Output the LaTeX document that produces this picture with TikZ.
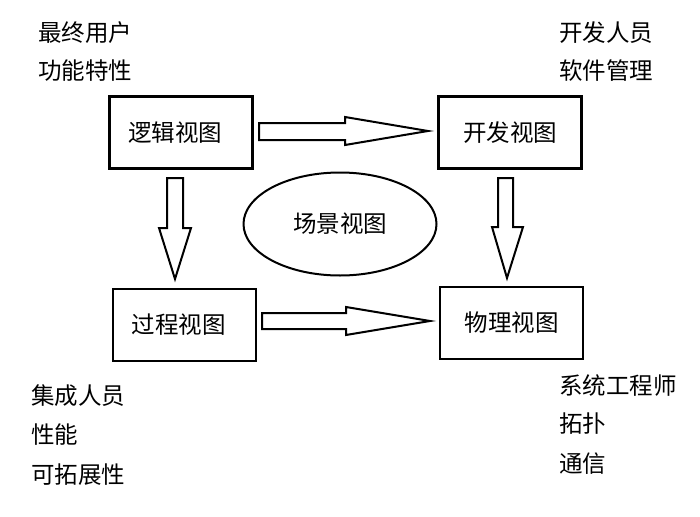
\documentclass[tikz,border=0pt]{standalone}
\usepackage{fontspec}
\setmainfont{Noto Sans CJK SC}
\usetikzlibrary{shapes.geometric}
\begin{document}
\begin{tikzpicture}[x=1pt,y=-1pt,
  viewbox/.style={draw,line width=2.6pt,minimum width=143pt,minimum height=72pt,inner sep=0pt,font=\fontsize{23.5}{26}\selectfont},
  scene/.style={draw,line width=2pt,ellipse,minimum width=193pt,minimum height=103pt,inner sep=0pt,font=\fontsize{23.5}{26}\selectfont},
  lbl/.style={anchor=west,inner sep=0pt,font=\fontsize{23.5}{26}\selectfont},
  blockarrow/.style={draw,line width=2pt,fill=white,line join=miter}]
\useasboundingbox (0,0) rectangle (700,516);
\node[viewbox] (logic) at (181,132.5) {\hspace*{-12pt}逻辑视图};
\node[viewbox] (dev) at (510,132.5) {开发视图};
\node[viewbox] (proc) at (184.5,325) {\hspace*{-12pt}过程视图};
\node[viewbox] (phys) at (511.5,323) {物理视图};
\node[scene] (scn) at (340,224) {场景视图};
% block arrows
\draw[blockarrow] (259,123)--(345,123)--(345,117)--(428,131)--(345,145)--(345,140)--(259,140)--cycle;
\draw[blockarrow] (262,313)--(346,313)--(346,307)--(430,321)--(346,335)--(346,329)--(262,329)--cycle;
\draw[blockarrow] (167,178)--(183,178)--(183,228)--(191,228)--(175,279)--(159,228)--(167,228)--cycle;
\draw[blockarrow] (498,178)--(513,178)--(513,227)--(523,227)--(507,278)--(492,227)--(498,227)--cycle;
% labels
\node[lbl] (t1) at (38,33) {最终用户};
\node[lbl] (t2) at (38,71) {功能特性};
\node[lbl] (t3) at (559,33) {开发人员};
\node[lbl] (t4) at (559,71) {软件管理};
\node[lbl] (t5) at (31,396) {集成人员};
\node[lbl] (t6) at (31,435) {性能};
\node[lbl] (t7) at (31,475) {可拓展性};
\node[lbl] (t8) at (559,386) {系统工程师};
\node[lbl] (t9) at (559,424) {拓扑};
\node[lbl] (t10) at (559,464) {通信};
\end{tikzpicture}
\end{document}
